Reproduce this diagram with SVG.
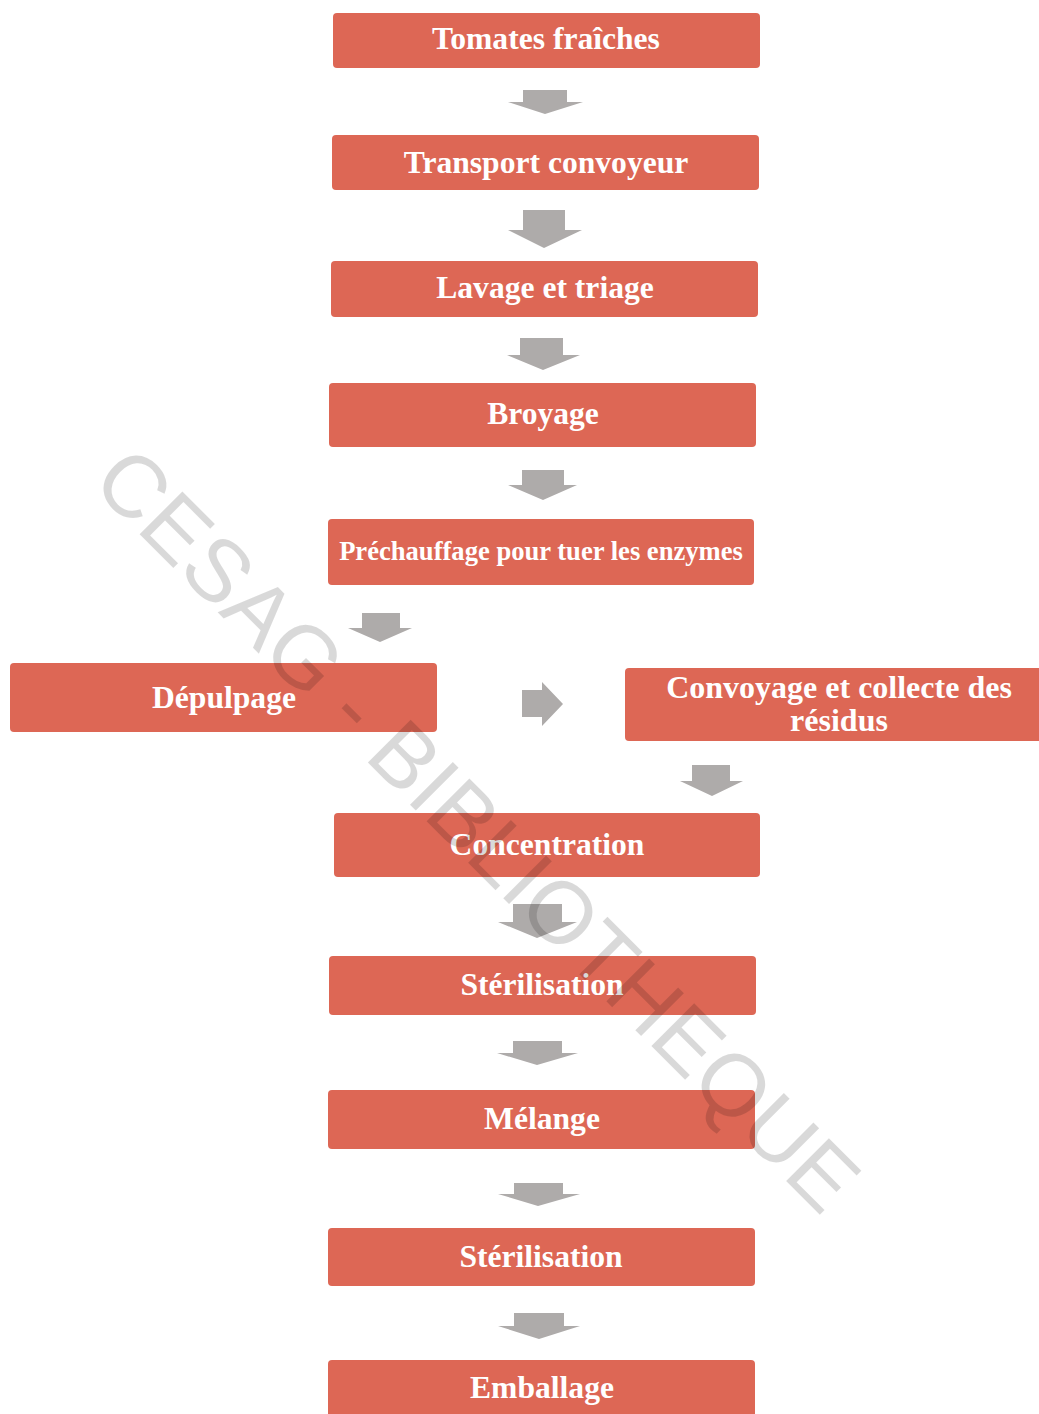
<svg xmlns="http://www.w3.org/2000/svg" width="1039" height="1414" viewBox="0 0 1039 1414">
<style>
.box{fill:#DD6755;}
.t{fill:#FFFFFF;font-family:"Liberation Serif","Times New Roman",serif;font-weight:bold;font-size:31.6px;text-anchor:middle;}
.s{font-size:26.6px;}
.l{font-size:32px;}
.arr{fill:#AEABAA;}
.wm{fill:#000000;fill-opacity:0.15;font-family:"Liberation Sans",Arial,sans-serif;font-size:88px;text-anchor:middle;}
</style>
<rect width="1039" height="1414" fill="#FFFFFF"/>
<g id="connectors">
<polygon class="arr" points="523,90 567,90 567,102 583,102 545,114 508,102 523,102"/>
<polygon class="arr" points="523,210 565,210 565,230 582,230 544,248 508,230 523,230"/>
<polygon class="arr" points="520,338 563,338 563,355 580,355 543,370 507,355 520,355"/>
<polygon class="arr" points="522,470 564,470 564,485 577,485 543,500 508,485 522,485"/>
<polygon class="arr" points="362,613 400,613 400,628 412,628 380,642 348,628 362,628"/>
<polygon class="arr" points="522,690 542,690 542,682 563,704 542,726 542,717 522,717"/>
<polygon class="arr" points="692,765 730,765 730,781 743,781 712,796 680,781 692,781"/>
<polygon class="arr" points="513,904 562,904 562,922 577,922 537,938 498,922 513,922"/>
<polygon class="arr" points="513,1041 562,1041 562,1053 578,1053 537,1065 497,1053 513,1053"/>
<polygon class="arr" points="514,1183 563,1183 563,1194 580,1194 538,1206 498,1194 514,1194"/>
<polygon class="arr" points="514,1313 564,1313 564,1326 580,1326 539,1339 498,1326 514,1326"/>
</g>
<g id="n1"><rect class="box" x="333" y="13" width="427" height="55" rx="4"/><text class="t" x="546" y="49">Tomates fraîches</text></g>
<g id="n2"><rect class="box" x="332" y="135" width="427" height="55" rx="4"/><text class="t" x="546" y="173">Transport convoyeur</text></g>
<g id="n3"><rect class="box" x="331" y="261" width="427" height="56" rx="4"/><text class="t" x="545" y="298">Lavage et triage</text></g>
<g id="n4"><rect class="box" x="329" y="383" width="427" height="64" rx="4"/><text class="t" x="543" y="424">Broyage</text></g>
<g id="n5"><rect class="box" x="328" y="519" width="426" height="66" rx="4"/><text class="t s" x="541" y="560">Préchauffage pour tuer les enzymes</text></g>
<g id="n6"><rect class="box" x="10" y="663" width="427" height="69" rx="4"/><text class="t" x="224" y="708">Dépulpage</text></g>
<g id="n7"><rect class="box" x="625" y="668" width="430" height="73" rx="4"/><text class="t l" x="839" y="698">Convoyage et collecte des</text><text class="t l" x="839" y="731">résidus</text></g>
<g id="n8"><rect class="box" x="334" y="813" width="426" height="64" rx="4"/><text class="t" x="547" y="855">Concentration</text></g>
<g id="n9"><rect class="box" x="329" y="956" width="427" height="59" rx="4"/><text class="t" x="542" y="995">Stérilisation</text></g>
<g id="n10"><rect class="box" x="328" y="1090" width="427" height="59" rx="4"/><text class="t" x="542" y="1129">Mélange</text></g>
<g id="n11"><rect class="box" x="328" y="1228" width="427" height="58" rx="4"/><text class="t" x="541" y="1267">Stérilisation</text></g>
<g id="n12"><rect class="box" x="328" y="1360" width="427" height="64" rx="4"/><text class="t" x="542" y="1398">Emballage</text></g>
<g id="watermark"><text class="wm" x="478" y="829" dy="31" transform="rotate(45 478 829)">CESAG - BIBLIOTHEQUE</text></g>
</svg>
